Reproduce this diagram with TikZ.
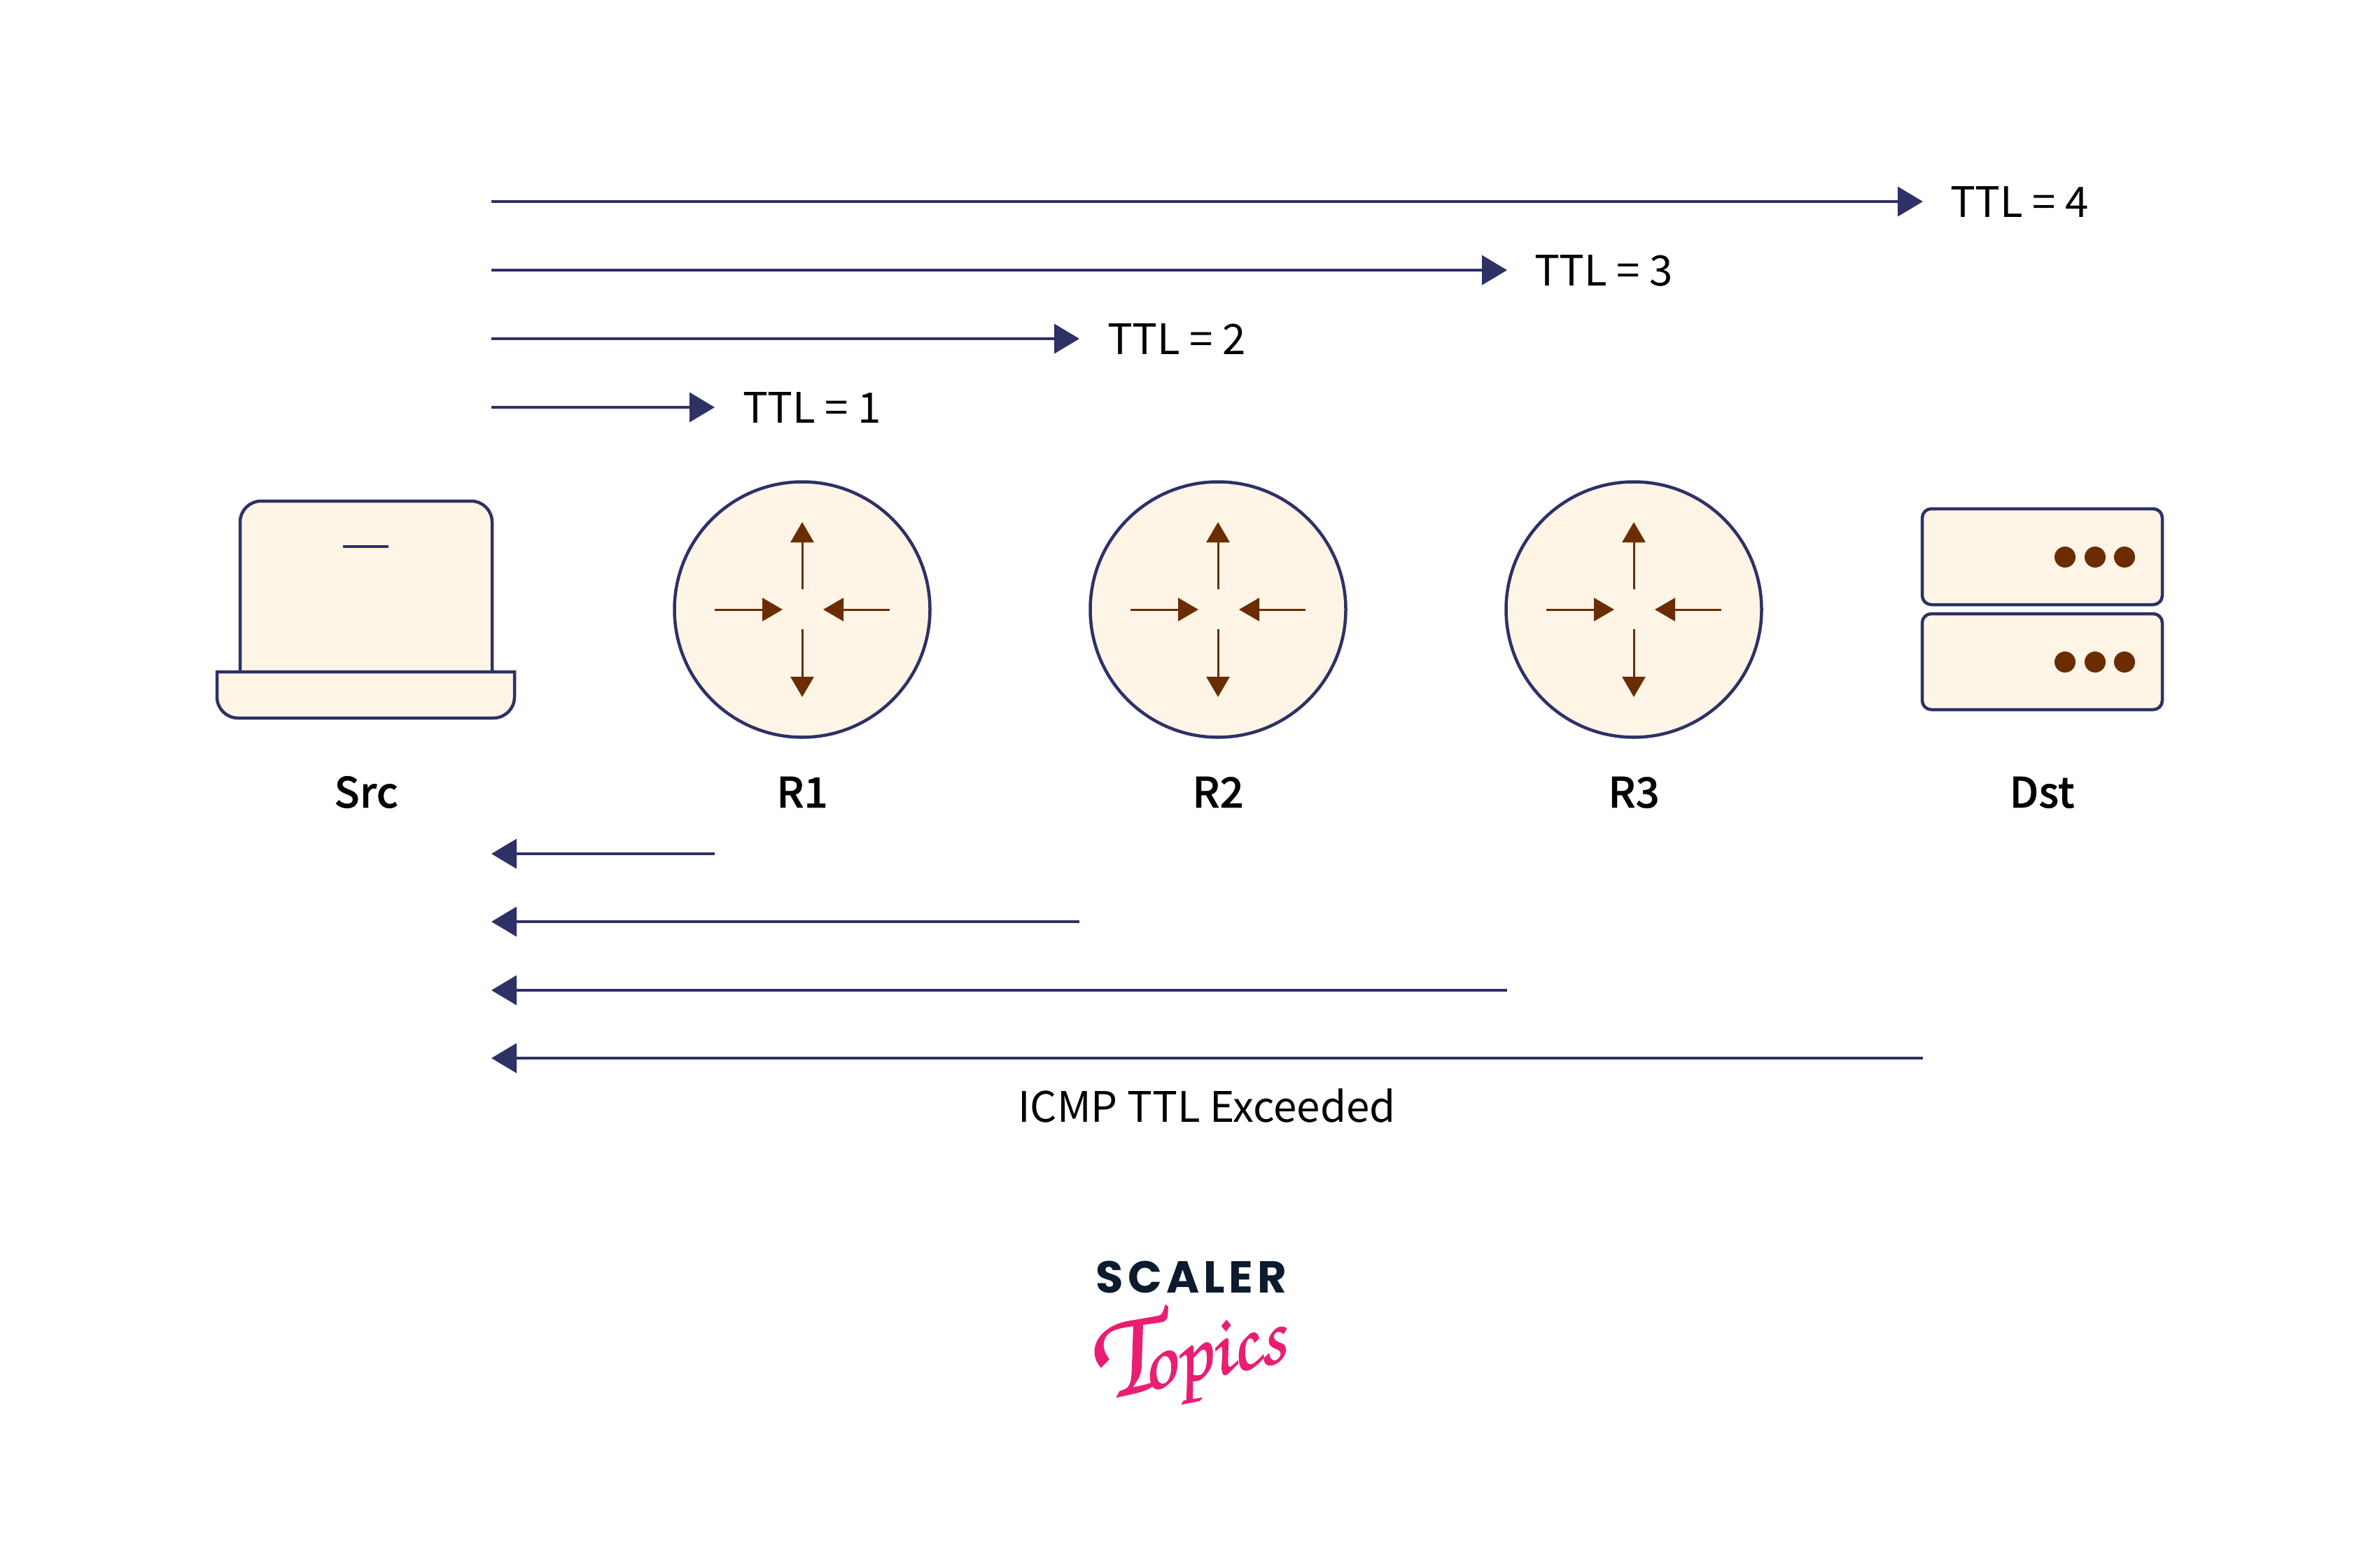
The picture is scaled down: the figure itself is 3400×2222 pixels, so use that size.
\documentclass[tikz,border=0pt]{standalone}
\usepackage{fontspec}
\usetikzlibrary{arrows.meta,calc}
\setmainfont{Noto Sans CJK SC}
\newfontfamily\labelfont[FakeBold=0.7]{Noto Sans CJK SC Medium}
\newfontfamily\logofont{Poppins}[BoldFont={Poppins Bold}]
\newfontfamily\handfont[FakeBold=0.9]{TeX Gyre Chorus}
\definecolor{navy}{HTML}{2D3166}
\definecolor{cream}{HTML}{FFF5E6}
\definecolor{brownish}{HTML}{6B2D00}
\definecolor{pinkish}{HTML}{E91E73}
\definecolor{logoink}{HTML}{0D1B2E}
\tikzset{
  outline/.style={draw=navy,line width=4.5pt,fill=cream},
  ttlarrow/.style={draw=navy,line width=4pt,-{Triangle[length=36pt,width=42pt,fill=navy]}},
  flowarrow/.style={draw=brownish,line width=3pt,-{Triangle[length=29pt,width=33pt,fill=brownish]}},
  txt/.style={inner sep=0pt,outer sep=0pt,font=\fontsize{60}{72}\selectfont,text=black},
  devlabel/.style={txt,anchor=base,font=\labelfont\fontsize{60}{72}\selectfont},
  router/.style={circle,outline,minimum size=365pt,inner sep=0pt},
  dot/.style={circle,fill=brownish,inner sep=0pt,minimum size=30pt},
  rack/.style={outline,rounded corners=13pt,minimum width=343pt,minimum height=137pt,inner sep=0pt}
}
\begin{document}
\begin{tikzpicture}[x=1pt,y=-1pt]
\useasboundingbox (0,0) rectangle (3400,2222);
\fill[white] (0,0) rectangle (3400,2222);

% outgoing probes
\foreach \n/\yy/\tip/\lab/\val in {4/288/2747/2786/4,3/386/2153/2192/3,2/484/1542/1582/2,1/582/1021/1061/1}{
  \coordinate (from\n) at (702,\yy);
  \coordinate (to\n) at (\tip,\yy);
  \draw[ttlarrow] (from\n) -- (to\n);
  \node[txt,anchor=base west] (ttl\n) at (\lab,\yy+22) {TTL = \val};
}

% laptop
\draw[outline,rounded corners=30pt] (343,960) -- (343,716) -- (703,716) -- (703,960);
\draw[outline,line join=miter] (310,960) -- (735,960) [rounded corners=30pt] -- (735,1026) -- (310,1026) [sharp corners] -- cycle;
\coordinate (dashl) at (490,781);
\coordinate (dashr) at (555,781);
\draw[navy,line width=4pt] (dashl) -- (dashr);
\node[devlabel] (src) at (523,1154) {Src};

% routers
\foreach \n/\cx in {1/1146,2/1740,3/2334}{
  \node[router] (r\n) at (\cx,871) {};
  \draw[flowarrow] ($(r\n.center)+(0,-29)$) -- ($(r\n.center)+(0,-125)$);
  \draw[flowarrow] ($(r\n.center)+(0,28)$) -- ($(r\n.center)+(0,125)$);
  \draw[flowarrow] ($(r\n.center)+(-125,0)$) -- ($(r\n.center)+(-28,0)$);
  \draw[flowarrow] ($(r\n.center)+(125,0)$) -- ($(r\n.center)+(30,0)$);
  \node[devlabel] (rl\n) at (\cx,1154) {R\n};
}

% server
\node[rack] (rackA) at (2917.5,795.5) {};
\node[rack] (rackB) at (2917.5,945.5) {};
\foreach \dx in {2950,2993,3035}{
  \node[dot] at (\dx,796) {};
  \node[dot] at (\dx,946) {};
}
\node[devlabel] (dst) at (2917,1154) {Dst};

% replies
\foreach \n/\yy/\tip in {1/1220/1021,2/1317/1542,3/1415/2153,4/1512/2747}{
  \coordinate (back\n) at (\tip,\yy);
  \coordinate (home\n) at (702,\yy);
  \draw[ttlarrow] (back\n) -- (home\n);
}
\node[txt,anchor=base] (icmp) at (1724,1603) {ICMP TTL Exceeded};

% logo
\node[anchor=base,inner sep=0pt,text=logoink,font=\logofont\bfseries\fontsize{64}{70}\selectfont] (scaler) at (1702,1847) {S\kern6pt C\kern6pt A\kern6pt L\kern6pt E\kern6pt R};
\node[anchor=base west,inner sep=0pt,text=pinkish,rotate=12,font=\handfont\fontsize{120}{160}\selectfont] (topics) at (1568,2002) {{\fontsize{175}{175}\selectfont T}\kern-18pt opics};
\end{tikzpicture}
\end{document}
